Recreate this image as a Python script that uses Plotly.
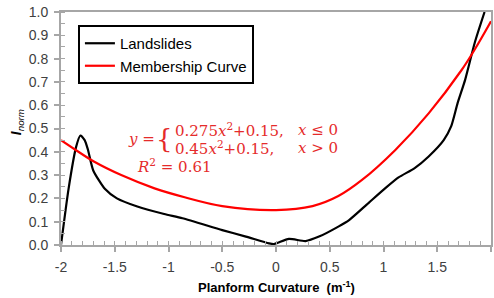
import plotly.graph_objects as go

# Landslides curve
land_x = [-2.0, -1.93, -1.86, -1.82, -1.78, -1.75, -1.70, -1.59, -1.48, -1.29, -1.04, -0.87,
          -0.50, -0.28, -0.065, -0.02, 0.12, 0.275, 0.40, 0.58, 0.68, 0.86, 1.02, 1.14,
          1.29, 1.42, 1.56, 1.63, 1.69, 1.76, 1.85, 1.94]
land_y = [0.0, 0.24, 0.42, 0.47, 0.45, 0.41, 0.32, 0.24, 0.20, 0.165, 0.133, 0.115,
          0.064, 0.036, 0.007, 0.004, 0.026, 0.017, 0.036, 0.079, 0.107, 0.18, 0.245, 0.29,
          0.33, 0.38, 0.45, 0.51, 0.61, 0.71, 0.87, 1.0]

# Membership curve
memb_x = [-2.0, -1.87, -1.69, -1.44, -1.13, -0.85, -0.50, 0.0, 0.34, 0.58, 0.80, 1.11,
          1.42, 1.725, 1.85, 2.0]
memb_y = [0.45, 0.41, 0.357, 0.30, 0.243, 0.205, 0.167, 0.15, 0.167, 0.21, 0.279, 0.408,
          0.565, 0.75, 0.84, 0.96]

x_ticks = [-2, -1.5, -1, -0.5, 0, 0.5, 1, 1.5, 2]
x_tick_labels = ["-2", "-1.5", "-1", "-0.5", "0", "0.5", "1", "1.5", "2"]
y_ticks = [0.0, 0.1, 0.2, 0.3, 0.4, 0.5, 0.6, 0.7, 0.8, 0.9, 1.0]
y_tick_labels = ["0.0", "0.1", "0.2", "0.3", "0.4", "0.5", "0.6", "0.7", "0.8", "0.9", "1.0"]

W, H = 494, 298
L, R, T, B = 61, 1, 12, 53
PW, PH = W - L - R, H - T - B


def px(xp):
    return (xp - L) / PW


def py(yp):
    return (H - B - yp) / PH


AXIS = "#a6a6a6"
TXT = "#404040"
RED = "#ff0000"
ERED = "#e52b2b"

fig = go.Figure()
fig.add_trace(go.Scatter(x=land_x, y=land_y, mode="lines", name="Landslides",
                         line=dict(color="black", width=2.2, shape="spline", smoothing=0.6)))
fig.add_trace(go.Scatter(x=memb_x, y=memb_y, mode="lines", name="Membership Curve",
                         line=dict(color=RED, width=2.2, shape="spline", smoothing=1.0)))

fig.update_layout(
    width=W, height=H,
    margin=dict(l=L, r=R, t=T, b=B),
    paper_bgcolor="white", plot_bgcolor="white",
    font=dict(family="Liberation Sans, Arial", size=14, color=TXT),
    showlegend=True,
    legend=dict(x=px(78), y=py(25), xanchor="left", yanchor="top",
                bordercolor="black", borderwidth=2, bgcolor="white",
                font=dict(size=15, color="black", family="Liberation Sans, Arial"),
                itemwidth=30, tracegroupgap=0),
)

fig.update_xaxes(range=[-2, 2], tickvals=x_ticks, ticktext=x_tick_labels,
                 showgrid=False, zeroline=False, showline=True, linecolor=AXIS, linewidth=2,
                 mirror=True, ticks="outside", ticklen=5, tickwidth=1.5, tickcolor=AXIS,
                 ticklabelstandoff=3,
                 tickfont=dict(size=14, color=TXT),
                 minor=dict(dtick=0.1, ticks="inside", ticklen=4, tickwidth=1.2, tickcolor=AXIS))
fig.update_yaxes(range=[0, 1], tickvals=y_ticks, ticktext=y_tick_labels,
                 showgrid=False, zeroline=False, showline=True, linecolor=AXIS, linewidth=2,
                 mirror=True, ticks="outside", ticklen=5, tickwidth=1.5, tickcolor=AXIS,
                 ticklabelstandoff=3,
                 tickfont=dict(size=14, color=TXT),
                 minor=dict(dtick=0.05, ticks="inside", ticklen=4, tickwidth=1.2, tickcolor=AXIS))

ann = []
# axis titles
ann.append(dict(text="<b>Planform Curvature  (m<sup>-1</sup>)</b>", x=px(278), y=py(287),
                xref="paper", yref="paper", showarrow=False,
                xanchor="center", yanchor="middle",
                font=dict(size=13, color="black", family="Liberation Sans, Arial")))
ann.append(dict(text="<b><i>I</i></b><i><sub>norm</sub></i>", x=px(17), y=py(122),
                xref="paper", yref="paper", showarrow=False, textangle=-90,
                xanchor="center", yanchor="middle",
                font=dict(size=14, color="black", family="Liberation Sans, Arial")))

SERIF = "DejaVu Serif, Liberation Serif, serif"
# text, x px, y px, size, anchor
eq = [
    ("<i>y</i> =", 157, 139, 15, "right"),
    ("{", 165, 139, 26, "center"),
    ("0.275<i>x</i><sup>2</sup>+0.15,", 174, 130, 15, "left"),
    ("0.45<i>x</i><sup>2</sup>+0.15,", 174, 148, 15, "left"),
    ("<i>x</i> ≤ 0", 297, 130, 15, "left"),
    ("<i>x</i> > 0", 297, 148, 15, "left"),
    ("<i>R</i><sup>2</sup> = 0.61", 135, 166, 15, "left"),
]
for t, xx, yy, s, a in eq:
    ann.append(dict(text=t, x=px(xx), y=py(yy), xref="paper", yref="paper",
                    xanchor=a, yanchor="middle", showarrow=False,
                    font=dict(size=s, color=ERED, family=SERIF)))

fig.update_layout(annotations=ann)
fig.write_html("out.html", config={"displayModeBar": False},
               post_script="document.body.style.margin='0';document.body.style.overflow='hidden';")
